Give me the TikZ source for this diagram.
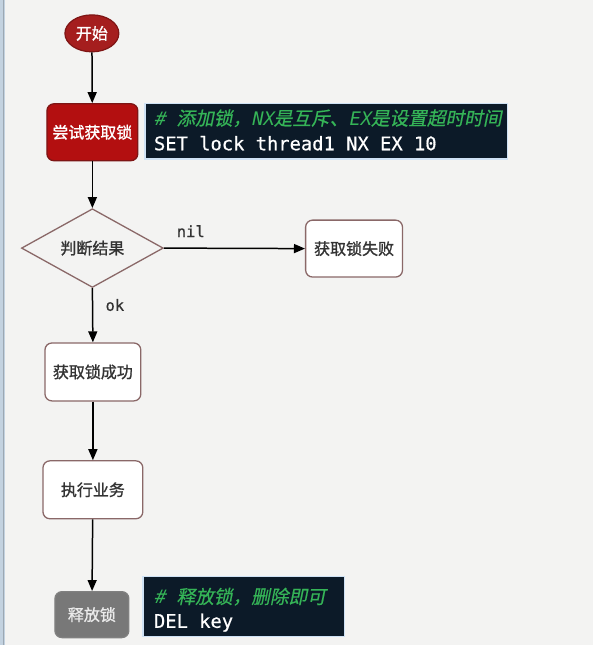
\documentclass[tikz,border=0pt]{standalone}
\usepackage{fontspec}
\setmainfont{Noto Sans CJK SC}
\setmonofont{DejaVu Sans Mono}
\newfontfamily\cjk[FakeBold=1.2]{Noto Sans CJK SC}
\newfontfamily\monoit[FakeSlant=0.2]{DejaVu Sans Mono}
\newfontfamily\cjkit[FakeSlant=0.2,FakeBold=0.6]{Noto Sans CJK SC}
\newfontfamily\monob[FakeBold=0.6]{DejaVu Sans Mono}
\usetikzlibrary{shapes.geometric,arrows.meta}
\definecolor{bg}{HTML}{F3F3F2}
\definecolor{redfill}{HTML}{B30F10}
\definecolor{redline}{HTML}{7E1515}
\definecolor{startfill}{HTML}{A51E1E}
\definecolor{brownline}{HTML}{8A6868}
\definecolor{codebg}{HTML}{0C1A28}
\definecolor{codegreen}{HTML}{35B457}
\definecolor{glow}{HTML}{CFE2F5}
\definecolor{txt}{HTML}{333333}
\definecolor{grayfill}{HTML}{787878}
\definecolor{edge}{HTML}{C3D2E0}
\tikzset{
  x=1pt,y=-1pt,
  flow/.style={draw=brownline,line width=1.3pt,fill=white,rounded corners=7pt,
    font=\cjk\fontsize{16}{18}\selectfont,text=txt,inner sep=0pt},
  redbox/.style={flow,draw=redline,fill=redfill,text=white},
  graybox/.style={flow,draw=gray,fill=grayfill,text=white!92!black},
  codebox/.style={draw=glow,line width=1.5pt,fill=codebg,inner sep=0pt},
  codeline/.style={anchor=west,inner sep=0pt,text=white,font=\monob\fontsize{18.8}{22}\selectfont},
  comment/.style={anchor=west,inner sep=0pt,text=codegreen,font=\fontsize{18.7}{22}\selectfont},
  lbl/.style={inner sep=0pt,text=txt,font=\monob\fontsize{15.5}{18}\selectfont},
  arr/.style={-{Triangle[length=11pt,width=9pt]},line width=1.5pt,black},
}
\begin{document}
\begin{tikzpicture}
\fill[bg] (0,0) rectangle (594,645);
\fill[edge] (0,0) rectangle (5,645);
\draw[color=edge!80!black,line width=0.8pt] (3,0) -- (3,645);
\useasboundingbox (0,0) rectangle (594,645);

\node[ellipse,draw=redline,line width=1.2pt,fill=startfill,text=white,
  minimum width=54pt,minimum height=37pt,inner sep=0pt,
  font=\cjk\fontsize{16}{18}\selectfont] (start) at (92,33) {开始};
\node[redbox,minimum width=91pt,minimum height=57pt] (try) at (92.5,132) {尝试获取锁};
\node[codebox,minimum width=363pt,minimum height=56pt] (code1) at (326.5,131) {};
\node[comment] (c1a) at (154,118) {{\monoit\# }{\cjkit 添加锁，}{\monoit NX}{\cjkit 是互斥、}{\monoit EX}{\cjkit 是设置超时时间}};
\node[codeline] (c1b) at (154,143) {SET lock thread1 NX EX 10};

\node[diamond,draw=brownline,line width=1.3pt,minimum width=142pt,minimum height=67pt,
  inner sep=0pt,text=txt,font=\cjk\fontsize{16}{18}\selectfont] (judge) at (92.5,248) {判断结果};
\node[flow,minimum width=97pt,minimum height=57pt] (fail) at (354.5,248.5) {获取锁失败};
\node[flow,minimum width=96pt,minimum height=58pt] (ok) at (93,372) {获取锁成功};
\node[flow,minimum width=100pt,minimum height=58pt] (exec) at (93,490) {执行业务};
\node[graybox,minimum width=74pt,minimum height=46pt] (rel) at (92,615) {释放锁};
\node[codebox,minimum width=202pt,minimum height=60pt] (code2) at (244,607) {};
\node[comment] (c2a) at (154,597) {{\monoit\# }{\cjkit 释放锁，删除即可}};
\node[codeline] (c2b) at (154,623) {DEL key};

\node[lbl] (nil) at (191,231) {nil};
\node[lbl] (oklbl) at (115,305) {ok};

\draw[arr] (start) -- (try);
\draw[arr] (try) -- (judge);
\draw[arr] (judge.east) -- (fail.west);
\draw[arr] (judge.south) -- (ok.north);
\draw[arr] (ok) -- (exec);
\draw[arr] (exec) -- (rel);
\end{tikzpicture}
\end{document}
